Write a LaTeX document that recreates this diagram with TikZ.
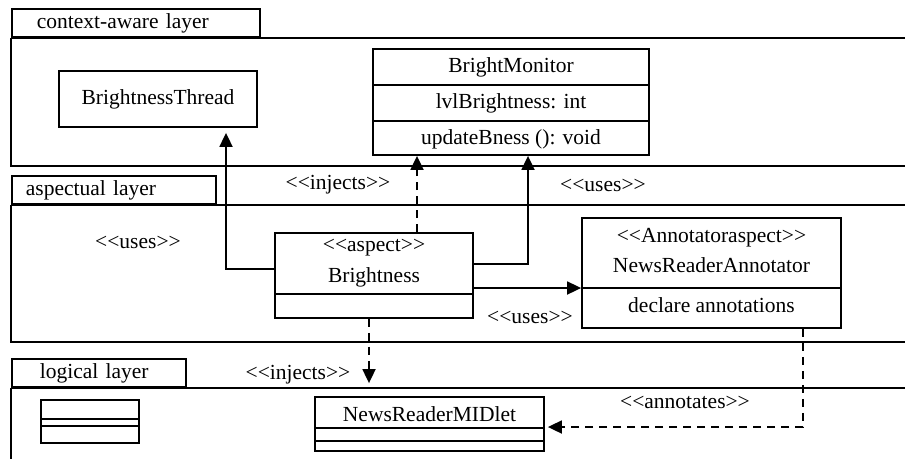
\documentclass[tikz,border=0pt]{standalone}
\usepackage{fontspec}
\setmainfont{Liberation Serif}
\usetikzlibrary{arrows.meta,positioning}
\newcommand\stereo[1]{\textless\kern0pt\textless#1\textgreater\kern0pt\textgreater}
\tikzset{
  frame/.style={line width=1.8pt},
  tabbox/.style={draw, line width=1.8pt, anchor=south west, minimum height=28pt, align=left, inner ysep=0pt},
  classbox/.style={draw, line width=1.8pt, inner sep=0pt},
  divider/.style={line width=1.8pt},
  txt/.style={inner sep=0pt},
  uses/.style={-{Triangle[length=14pt,width=13pt]}, line width=1.8pt},
  injects/.style={uses, dash pattern=on 8pt off 6pt}
}
\begin{document}
\begin{tikzpicture}[x=1pt, y=-1pt, font=\fontsize{21.5}{24}\selectfont]
    \useasboundingbox (0,0) rectangle (905,459);

    % layers
    \node[tabbox, inner xsep=25pt, text width=198pt] (ctxtab) at (11,38) {context-aware layer};
    \draw[frame] (ctxtab.south west) -- (905,38) (ctxtab.south west) -- (11,166) -- (905,166);
    \node[tabbox, inner xsep=14pt, text width=176pt] (asptab) at (11,205) {aspectual layer};
    \draw[frame] (asptab.south west) -- (905,205) (asptab.south west) -- (11,342) -- (905,342);
    \node[tabbox, inner xsep=28pt, text width=118pt] (logtab) at (11,388) {logical layer};
    \draw[frame] (logtab.south west) -- (905,388) (logtab.south west) -- (11,459);

    % classes
    \node[classbox, minimum width=198pt, minimum height=56pt] (thread) at (158,99) {BrightnessThread};

    \node[classbox, minimum width=276pt, minimum height=106pt] (monitor) at (511,102) {};
    \draw[divider] (monitor.west |- 0,85) -- (monitor.east |- 0,85);
    \draw[divider] (monitor.west |- 0,121) -- (monitor.east |- 0,121);
    \node[txt] (monname) at (511,67) {BrightMonitor};
    \node[txt] (monattr) at (511,103) {lvlBrightness: int};
    \node[txt] (monop) at (511,139) {updateBness (): void};

    \node[classbox, minimum width=198pt, minimum height=85pt] (bright) at (374,275.5) {};
    \draw[divider] (bright.west |- 0,294) -- (bright.east |- 0,294);
    \node[txt] (brightst) at (374,248) {\stereo{aspect}};
    \node[txt] (brightname) at (374,277) {Brightness};

    \node[classbox, minimum width=259pt, minimum height=110pt] (annot) at (711.5,273) {};
    \draw[divider] (annot.west |- 0,288) -- (annot.east |- 0,288);
    \node[txt] (annotst) at (711.5,238) {\stereo{Annotatoraspect}};
    \node[txt] (annotname) at (711.5,265) {NewsReaderAnnotator};
    \node[txt] (annotop) at (711.5,305) {declare annotations};

    \node[classbox, minimum width=229pt, minimum height=54pt] (midlet) at (429.5,424) {};
    \draw[divider] (midlet.west |- 0,428) -- (midlet.east |- 0,428);
    \draw[divider] (midlet.west |- 0,441) -- (midlet.east |- 0,441);
    \node[txt] (midletname) at (429.5,414) {NewsReaderMIDlet};

    \node[classbox, minimum width=98pt, minimum height=43pt] (blank) at (90,421.5) {};
    \draw[divider] (blank.west |- 0,419) -- (blank.east |- 0,419);
    \draw[divider] (blank.west |- 0,426) -- (blank.east |- 0,426);

    % labels
    \node[txt] (injup) at (338,185) {\stereo{injects}};
    \node[txt] (usesup) at (603,185) {\stereo{uses}};
    \node[txt] (usesleft) at (138,242) {\stereo{uses}};
    \node[txt] (usesright) at (530,317) {\stereo{uses}};
    \node[txt] (injdown) at (298,375) {\stereo{injects}};
    \node[txt] (annlbl) at (685,402) {\stereo{annotates}};

    % connectors
    \draw[uses] ([yshift=6.5]bright.west) -| ([xshift=68,yshift=-5]thread.south);
    \draw[injects] ([xshift=43]bright.north) -- ([xshift=-94]monitor.south);
    \draw[uses] ([yshift=11.5]bright.east) -| ([xshift=17]monitor.south);
    \draw[uses] ([yshift=-12.5]bright.east) -- ([yshift=-12.5]bright.east -| annot.west);
    \draw[injects] ([xshift=-5]bright.south) -- ([xshift=-60.5,yshift=13]midlet.north);
    \draw[injects] ([xshift=91.5]annot.south) |- ([xshift=3,yshift=-3]midlet.east);
\end{tikzpicture}
\end{document}
